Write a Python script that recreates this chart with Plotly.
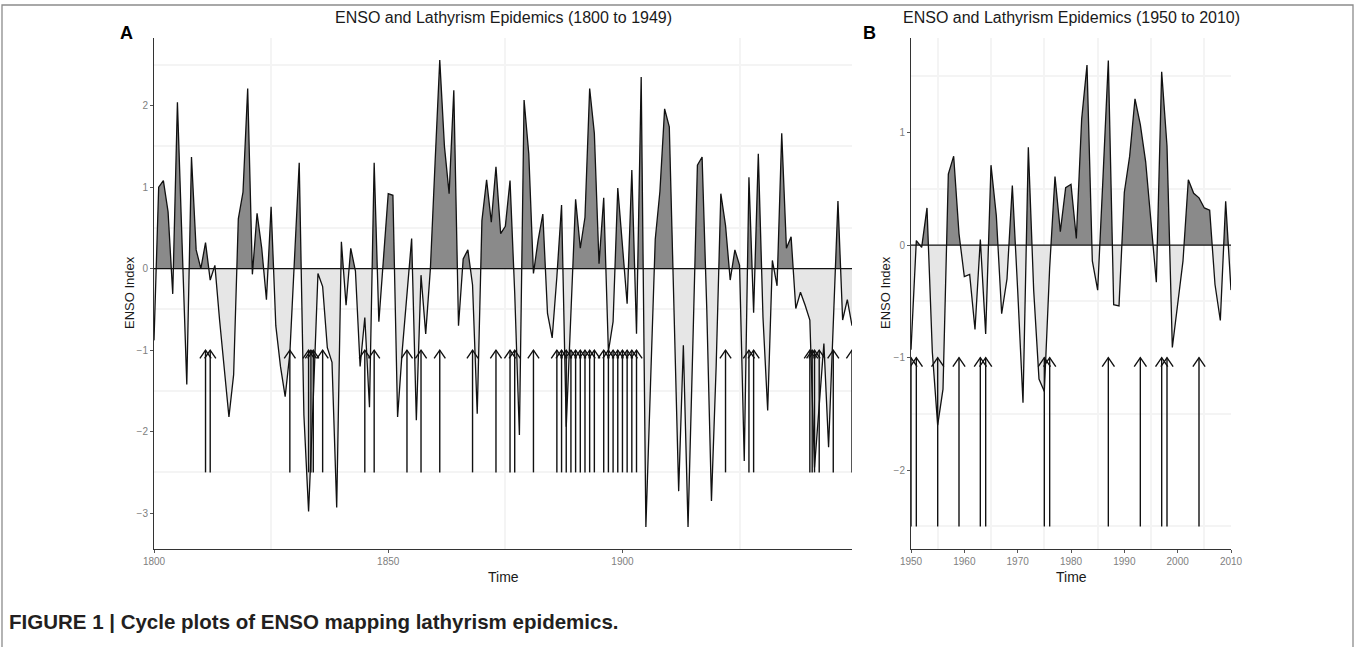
import plotly.graph_objects as go

W, H = 1360, 647
FONT = "Liberation Sans, Arial, Helvetica, sans-serif"

# ---------------- data ----------------
years_a = list(range(1800, 1950))
enso_a = [
    -0.88, 1.00, 1.08, 0.70, -0.31, 2.04, 0.30, -1.42, 1.37, 0.23,   # 1800s
    0.00, 0.32, -0.14, 0.04, -0.63, -1.25, -1.82, -1.30, 0.61, 0.94,  # 1810s
    2.21, -0.07, 0.68, 0.25, -0.38, 0.76, -0.70, -1.20, -1.57, -1.04, # 1820s
    0.10, 1.30, -1.80, -2.98, -1.60, -0.06, -0.22, -0.97, -1.15, -2.93,  # 1830s
    0.33, -0.45, 0.25, -0.03, -1.20, -0.60, -1.70, 1.30, -0.65, 0.15,  # 1840s
    0.92, 0.90, -1.82, -1.00, -0.35, 0.37, -1.86, -0.08, -0.80, 0.00,  # 1850s
    1.30, 2.56, 1.50, 0.92, 2.19, -0.70, 0.12, 0.23, -0.20, -1.78,     # 1860s
    0.59, 1.09, 0.57, 1.25, 0.43, 0.52, 1.08, -0.30, -2.04, 2.07,      # 1870s
    1.41, -0.06, 0.35, 0.67, -0.55, -0.85, -0.10, 0.78, -1.94, -0.55,  # 1880s
    0.85, 0.25, 0.63, 2.21, 1.66, 0.06, 0.87, -1.02, -0.65, 0.99,      # 1890s
    0.30, -0.43, 1.21, -0.80, 2.35, -3.17, -1.40, 0.36, 0.95, 1.96,    # 1900s
    1.74, -0.40, -2.73, -0.94, -3.17, -1.00, 1.27, 1.37, -0.50, -2.85, # 1910s
    -1.20, 0.92, 0.53, -0.14, 0.23, 0.04, -2.36, 1.12, -0.54, 1.41,    # 1920s
    -0.60, -1.74, 0.10, -0.21, 1.66, 0.25, 0.39, -0.49, -0.29, -0.45,  # 1930s
    -0.63, -2.44, -1.66, -0.92, -2.19, -0.70, 0.83, -0.63, -0.38, -0.70,  # 1940s
]

years_b = list(range(1950, 2011))
enso_b = [
    -0.93, 0.04, -0.02, 0.33, -0.95, -1.60, -1.28, 0.63, 0.79, 0.10,  # 1950s
    -0.28, -0.26, -0.75, 0.05, -0.79, 0.71, 0.26, -0.61, -0.30, 0.53,  # 1960s
    -0.40, -1.40, 0.87, -0.40, -1.19, -1.30, -0.20, 0.61, 0.12, 0.51,  # 1970s
    0.54, 0.06, 1.12, 1.60, -0.14, -0.40, 0.60, 1.64, -0.53, -0.54,    # 1980s
    0.47, 0.79, 1.30, 1.07, 0.74, 0.20, -0.33, 1.54, 0.88, -0.91,      # 1990s
    -0.53, -0.14, 0.58, 0.46, 0.42, 0.33, 0.31, -0.35, -0.67, 0.39,    # 2000s
    -0.40,                                                              # 2010
]

epidemics_a = [1811, 1812, 1829, 1833, 1833.5, 1834, 1836, 1845, 1847, 1854,
               1857, 1861, 1868, 1873, 1876, 1877, 1881, 1886, 1887, 1888,
               1889, 1890, 1891, 1892, 1893, 1894, 1896, 1897, 1898, 1899,
               1900, 1901, 1902, 1903, 1922, 1927, 1928, 1940, 1940.5, 1941,
               1942, 1945, 1949]
epidemics_b = [1950, 1951, 1955, 1959, 1963, 1964, 1975, 1976, 1987, 1993,
               1997, 1998, 2004]

ARROW_BASE, ARROW_TIP = -2.5, -1.0

title_a = "ENSO and Lathyrism Epidemics (1800 to 1949)"
title_b = "ENSO and Lathyrism Epidemics (1950 to 2010)"
xticks_a = [1800, 1850, 1900]
yticks_a = [-3, -2, -1, 0, 1, 2]
xticks_b = [1950, 1960, 1970, 1980, 1990, 2000, 2010]
yticks_b = [-2, -1, 0, 1]
caption = "FIGURE 1 | Cycle plots of ENSO mapping lathyrism epidemics."


# ---------------- helpers ----------------
def split_pos_neg(xs, ys):
    X, Y = [], []
    for i in range(len(xs)):
        if i > 0:
            y0, y1 = ys[i - 1], ys[i]
            if (y0 > 0 > y1) or (y0 < 0 < y1):
                t = y0 / (y0 - y1)
                X.append(xs[i - 1] + t * (xs[i] - xs[i - 1]))
                Y.append(0.0)
        X.append(xs[i])
        Y.append(ys[i])
    return X, [max(v, 0) for v in Y], [min(v, 0) for v in Y]


def arrow_paths(years, dx, dy):
    xs, ys = [], []
    for yr in years:
        xs += [yr, yr, None, yr - dx, yr, yr + dx, None]
        ys += [ARROW_BASE, ARROW_TIP, None, ARROW_TIP - dy, ARROW_TIP, ARROW_TIP - dy, None]
    return xs, ys


fig = go.Figure()


def add_panel(years, vals, epi, xa, ya, dx, dy):
    X, pos, neg = split_pos_neg(years, vals)
    fig.add_trace(go.Scatter(x=X, y=neg, fill="tozeroy", mode="none",
                             fillcolor="#e6e6e6", xaxis=xa, yaxis=ya,
                             showlegend=False, hoverinfo="skip"))
    fig.add_trace(go.Scatter(x=X, y=pos, fill="tozeroy", mode="none",
                             fillcolor="#8a8a8a", xaxis=xa, yaxis=ya,
                             showlegend=False, hoverinfo="skip"))
    fig.add_trace(go.Scatter(x=years, y=vals, mode="lines",
                             line=dict(color="#111111", width=1.3),
                             xaxis=xa, yaxis=ya, showlegend=False))
    ax, ay = arrow_paths(epi, dx, dy)
    fig.add_trace(go.Scatter(x=ax, y=ay, mode="lines",
                             line=dict(color="#111111", width=1.4),
                             xaxis=xa, yaxis=ya, showlegend=False,
                             hoverinfo="skip"))


add_panel(years_a, enso_a, epidemics_a, "x", "y", 1.2, 0.1)
add_panel(years_b, enso_b, epidemics_b, "x2", "y2", 1.15, 0.08)

ydom = [1 - 549 / H, 1 - 38 / H]
axis_common = dict(showline=True, linecolor="#333333", linewidth=1,
                   ticks="outside", ticklen=3, tickcolor="#555555",
                   tickfont=dict(family=FONT, size=10, color="#808080"),
                   showgrid=False, zeroline=False, automargin=False)
grid_minor = dict(showgrid=True, gridcolor="#f4f4f4", gridwidth=2, ticks="")

fig.update_layout(
    width=W, height=H, margin=dict(l=0, r=0, t=0, b=0, pad=0, autoexpand=False),
    paper_bgcolor="white", plot_bgcolor="white",
    xaxis=dict(domain=[154 / W, 852 / W], range=[years_a[0], years_a[-1]],
               tickvals=xticks_a, anchor="y",
               minor=dict(tickvals=[1825, 1875, 1925], **grid_minor), **axis_common),
    yaxis=dict(domain=ydom, range=[-3.44, 2.83], tickvals=yticks_a, anchor="x",
               minor=dict(tickvals=[-2.5, -1.5, -0.5, 0.5, 1.5, 2.5], **grid_minor),
               **axis_common),
    xaxis2=dict(domain=[911 / W, 1231 / W], range=[years_b[0], years_b[-1]],
                tickvals=xticks_b, anchor="y2",
                minor=dict(tickvals=[1955, 1965, 1975, 1985, 1995, 2005], **grid_minor),
                **axis_common),
    yaxis2=dict(domain=ydom, range=[-2.70, 1.84], tickvals=yticks_b, anchor="x2",
                minor=dict(tickvals=[-2.5, -1.5, -0.5, 0.5, 1.5], **grid_minor),
                **axis_common),
)

# zero lines
for xr, yr in (("x domain", "y"), ("x2 domain", "y2")):
    fig.add_shape(type="line", xref=xr, yref=yr, x0=0, x1=1, y0=0, y1=0,
                  line=dict(color="#111111", width=1.2), layer="above")

# outer frame
fig.add_shape(type="rect", xref="paper", yref="paper", x0=2 / W, x1=1353 / W,
              y0=-0.1, y1=1 - 5 / H, line=dict(color="#8c8c8c", width=1.3),
              layer="above")


def ann(text, x, y, size, bold=False, color="#1a1a1a", angle=0, xanchor="center"):
    fig.add_annotation(text=f"<b>{text}</b>" if bold else text,
                       x=x / W, y=1 - y / H, xref="paper", yref="paper",
                       showarrow=False, textangle=angle, xanchor=xanchor,
                       yanchor="middle", font=dict(family=FONT, size=size, color=color))


ann(title_a, 503, 17, 16)
ann(title_b, 1071, 17, 16)
ann("A", 126, 33, 18, bold=True, color="#000000")
ann("B", 870, 33, 18, bold=True, color="#000000")
ann("ENSO Index", 129, 293, 13, angle=-90)
ann("ENSO Index", 885, 293, 13, angle=-90)
ann("Time", 503, 577, 14)
ann("Time", 1071, 577, 14)
ann(caption, 7, 621, 20.5, bold=True, color="#231f20", xanchor="left")

css_js = ("var s=document.createElement('style');"
          "s.innerHTML='html,body{margin:0!important;padding:0!important;overflow:hidden!important;}';"
          "document.head.appendChild(s);"
          "document.documentElement.style.margin='0';document.body.style.margin='0';")

fig.write_html("out.html", config={"displayModeBar": False, "responsive": False},
               post_script=css_js)
